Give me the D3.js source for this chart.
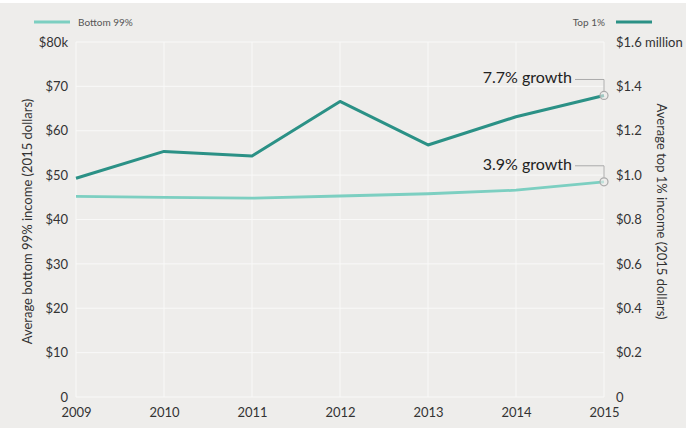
<!DOCTYPE html>
<html><head><meta charset="utf-8">
<script src="https://cdn.jsdelivr.net/npm/d3@7"></script>
<style>
body{margin:0;background:#fff;}
svg{display:block;font-family:Lato,"Open Sans",sans-serif;}
</style></head>
<body><svg id="c" width="686" height="428"></svg>
<script>
const years = [2009, 2010, 2011, 2012, 2013, 2014, 2015];
const bottom99 = [45.2, 45.0, 44.8, 45.3, 45.8, 46.6, 48.5];       // $k
const top1 = [0.986, 1.107, 1.086, 1.332, 1.136, 1.263, 1.359];    // $ million
const leftTicks = [0, 10, 20, 30, 40, 50, 60, 70, 80];
const rightTicks = [0, 0.2, 0.4, 0.6, 0.8, 1.0, 1.2, 1.4, 1.6];
const annotations = [
  {series: "top", label: "7.7% growth"},
  {series: "bottom", label: "3.9% growth"}
];

const svg = d3.select("#c");
const W = 686, H = 428;
const m = {l: 76, r: 82, t: 42, b: 31};
const colTop = "#2b9186", colBot = "#7ccfc1";

svg.append("rect").attr("x", 0).attr("y", 3).attr("width", W).attr("height", H - 3).attr("fill", "#eeedeb");

const x = d3.scaleLinear().domain([2009, 2015]).range([m.l, W - m.r]);
const yL = d3.scaleLinear().domain([0, 80]).range([H - m.b, m.t]);
const yR = d3.scaleLinear().domain([0, 1.6]).range([H - m.b, m.t]);

// grid
const g = svg.append("g");
g.selectAll("line.h").data(leftTicks).join("line")
  .attr("x1", x.range()[0]).attr("x2", x.range()[1])
  .attr("y1", d => yL(d)).attr("y2", d => yL(d))
  .attr("stroke", "#f9f9f8").attr("stroke-width", 1);
g.selectAll("line.v").data(years).join("line")
  .attr("x1", d => x(d)).attr("x2", d => x(d))
  .attr("y1", yL(0)).attr("y2", yL(80))
  .attr("stroke", "#f9f9f8").attr("stroke-width", 1);

// axes
const fmtL = d => d === 0 ? "0" : (d === 80 ? "$80k" : "$" + d);
const fmtR = d => d === 0 ? "0" : (d === 1.6 ? "$1.6 million" : "$" + d.toFixed(1));
const axL = svg.append("g").attr("transform", `translate(${m.l},0)`)
  .call(d3.axisLeft(yL).tickValues(leftTicks).tickFormat(fmtL).tickSize(0).tickPadding(8));
const axR = svg.append("g").attr("transform", `translate(${W - m.r},0)`)
  .call(d3.axisRight(yR).tickValues(rightTicks).tickFormat(fmtR).tickSize(0).tickPadding(12));
const axB = svg.append("g").attr("transform", `translate(0,${H - m.b})`)
  .call(d3.axisBottom(x).tickValues(years).tickFormat(d3.format("d")).tickSize(0).tickPadding(11));
[axL, axR, axB].forEach(a => {
  a.select(".domain").remove();
  a.selectAll("text").attr("font-size", 13).attr("fill", "#333").attr("font-family", "Lato, sans-serif");
});

// axis titles
svg.append("text").attr("transform", `translate(32,${(yL(0) + yL(80)) / 2 + 2}) rotate(-90)`)
  .attr("text-anchor", "middle").attr("font-size", 13).attr("fill", "#333")
  .text("Average bottom 99% income (2015 dollars)");
svg.append("text").attr("transform", `translate(657,${(yL(0) + yL(80)) / 2 - 8}) rotate(90)`)
  .attr("text-anchor", "middle").attr("font-size", 13).attr("fill", "#333")
  .text("Average top 1% income (2015 dollars)");

// lines
const lineB = d3.line().x((d, i) => x(years[i])).y(d => yL(d));
const lineT = d3.line().x((d, i) => x(years[i])).y(d => yR(d));
svg.append("path").datum(bottom99).attr("d", lineB).attr("fill", "none")
  .attr("stroke", colBot).attr("stroke-width", 2.8).attr("stroke-linejoin", "round");
svg.append("path").datum(top1).attr("d", lineT).attr("fill", "none")
  .attr("stroke", colTop).attr("stroke-width", 3).attr("stroke-linejoin", "round");

// annotations
annotations.forEach(a => {
  const last = years.length - 1;
  const px = x(years[last]);
  const py = a.series === "top" ? yR(top1[last]) : yL(bottom99[last]);
  const ly = py - 16;
  svg.append("path")
    .attr("d", `M${px - 29},${ly}H${px}V${py - 4}`)
    .attr("fill", "none").attr("stroke", "#aaa").attr("stroke-width", 1);
  svg.append("circle").attr("cx", px).attr("cy", py).attr("r", 4)
    .attr("fill", "rgba(238,237,235,0.6)").attr("stroke", "#aaa").attr("stroke-width", 1.2);
  svg.append("text").attr("x", px - 32).attr("y", ly + 4).attr("text-anchor", "end")
    .attr("font-size", 16).attr("fill", "#222").text(a.label);
});

// legend
svg.append("line").attr("x1", 34).attr("x2", 70).attr("y1", 22).attr("y2", 22)
  .attr("stroke", colBot).attr("stroke-width", 3);
svg.append("text").attr("x", 78).attr("y", 26).attr("font-size", 10).attr("fill", "#555").text("Bottom 99%");
svg.append("line").attr("x1", 616).attr("x2", 652).attr("y1", 22).attr("y2", 22)
  .attr("stroke", colTop).attr("stroke-width", 3);
svg.append("text").attr("x", 605).attr("y", 26).attr("text-anchor", "end").attr("font-size", 10).attr("fill", "#555").text("Top 1%");
</script></body></html>
